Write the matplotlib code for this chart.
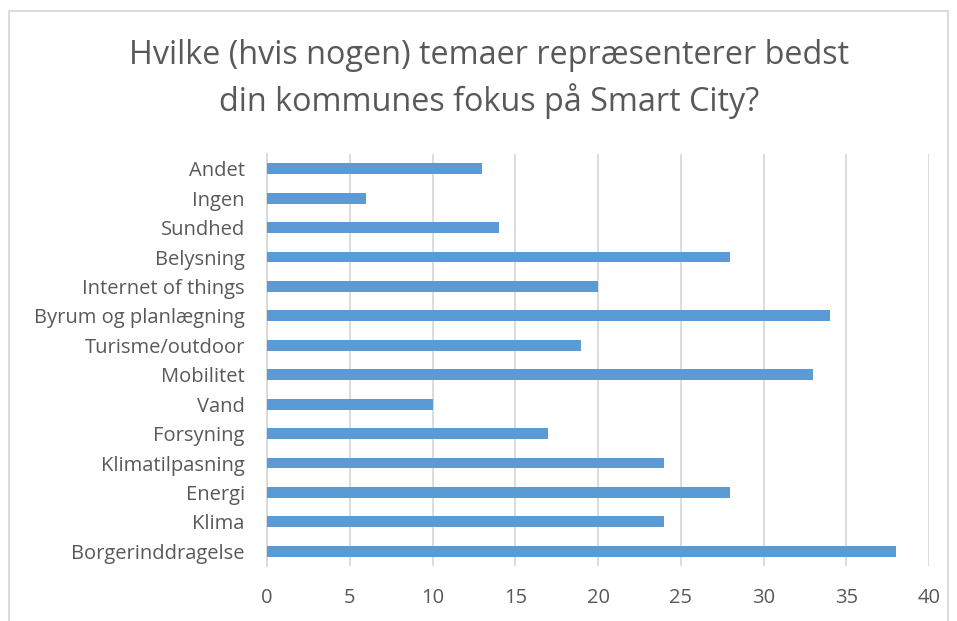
import matplotlib.pyplot as plt
from matplotlib.patches import Rectangle

# categories top to bottom, as in the chart
categories = ["Andet", "Ingen", "Sundhed", "Belysning", "Internet of things",
              "Byrum og planlægning", "Turisme/outdoor", "Mobilitet", "Vand",
              "Forsyning", "Klimatilpasning", "Energi", "Klima", "Borgerinddragelse"]
counts = [13, 6, 14, 28, 20, 34, 19, 33, 10, 17, 24, 28, 24, 38]
xticks = [0, 5, 10, 15, 20, 25, 30, 35, 40]

title = "Hvilke (hvis nogen) temaer repræsenterer bedst\ndin kommunes fokus på Smart City?"

plt.rcParams['font.family'] = ['Open Sans', 'DejaVu Sans']
text_col = "#595959"
grid_col = "#D9D9D9"
bar_col = "#5B9BD5"

fig = plt.figure(figsize=(9.57, 6.21), dpi=100)
ax = fig.add_axes([267 / 957, 1 - 566 / 621, (929 - 267) / 957, (566 - 154) / 621])

# outer chart border (runs off the bottom)
fig.patches.append(Rectangle((9 / 957, -0.05), (948 - 9) / 957, 1.05 - 11 / 621,
                             transform=fig.transFigure, fill=False,
                             edgecolor=grid_col, linewidth=1.3))

y = list(range(len(categories)))[::-1]
ax.barh(y, counts, height=0.37, color=bar_col, zorder=3)

ax.set_xlim(0, 40)
ax.set_ylim(-0.5, len(categories) - 0.5)
ax.set_xticks(xticks)
ax.set_yticks(y)
ax.set_yticklabels(categories)
ax.grid(axis='x', color=grid_col, linewidth=1.3, zorder=0)
for s in ['top', 'right', 'bottom']:
    ax.spines[s].set_visible(False)
ax.spines['left'].set_color(grid_col)
ax.spines['left'].set_linewidth(1.3)
ax.tick_params(axis='both', length=0, labelsize=14.5, labelcolor=text_col)
ax.tick_params(axis='x', pad=16)
ax.tick_params(axis='y', pad=16)

fig.text(489 / 957, 1 - 79 / 621, title, ha='center', va='center',
         fontsize=23.3, color=text_col, linespacing=1.4)

fig.savefig("out.png", dpi=100)
